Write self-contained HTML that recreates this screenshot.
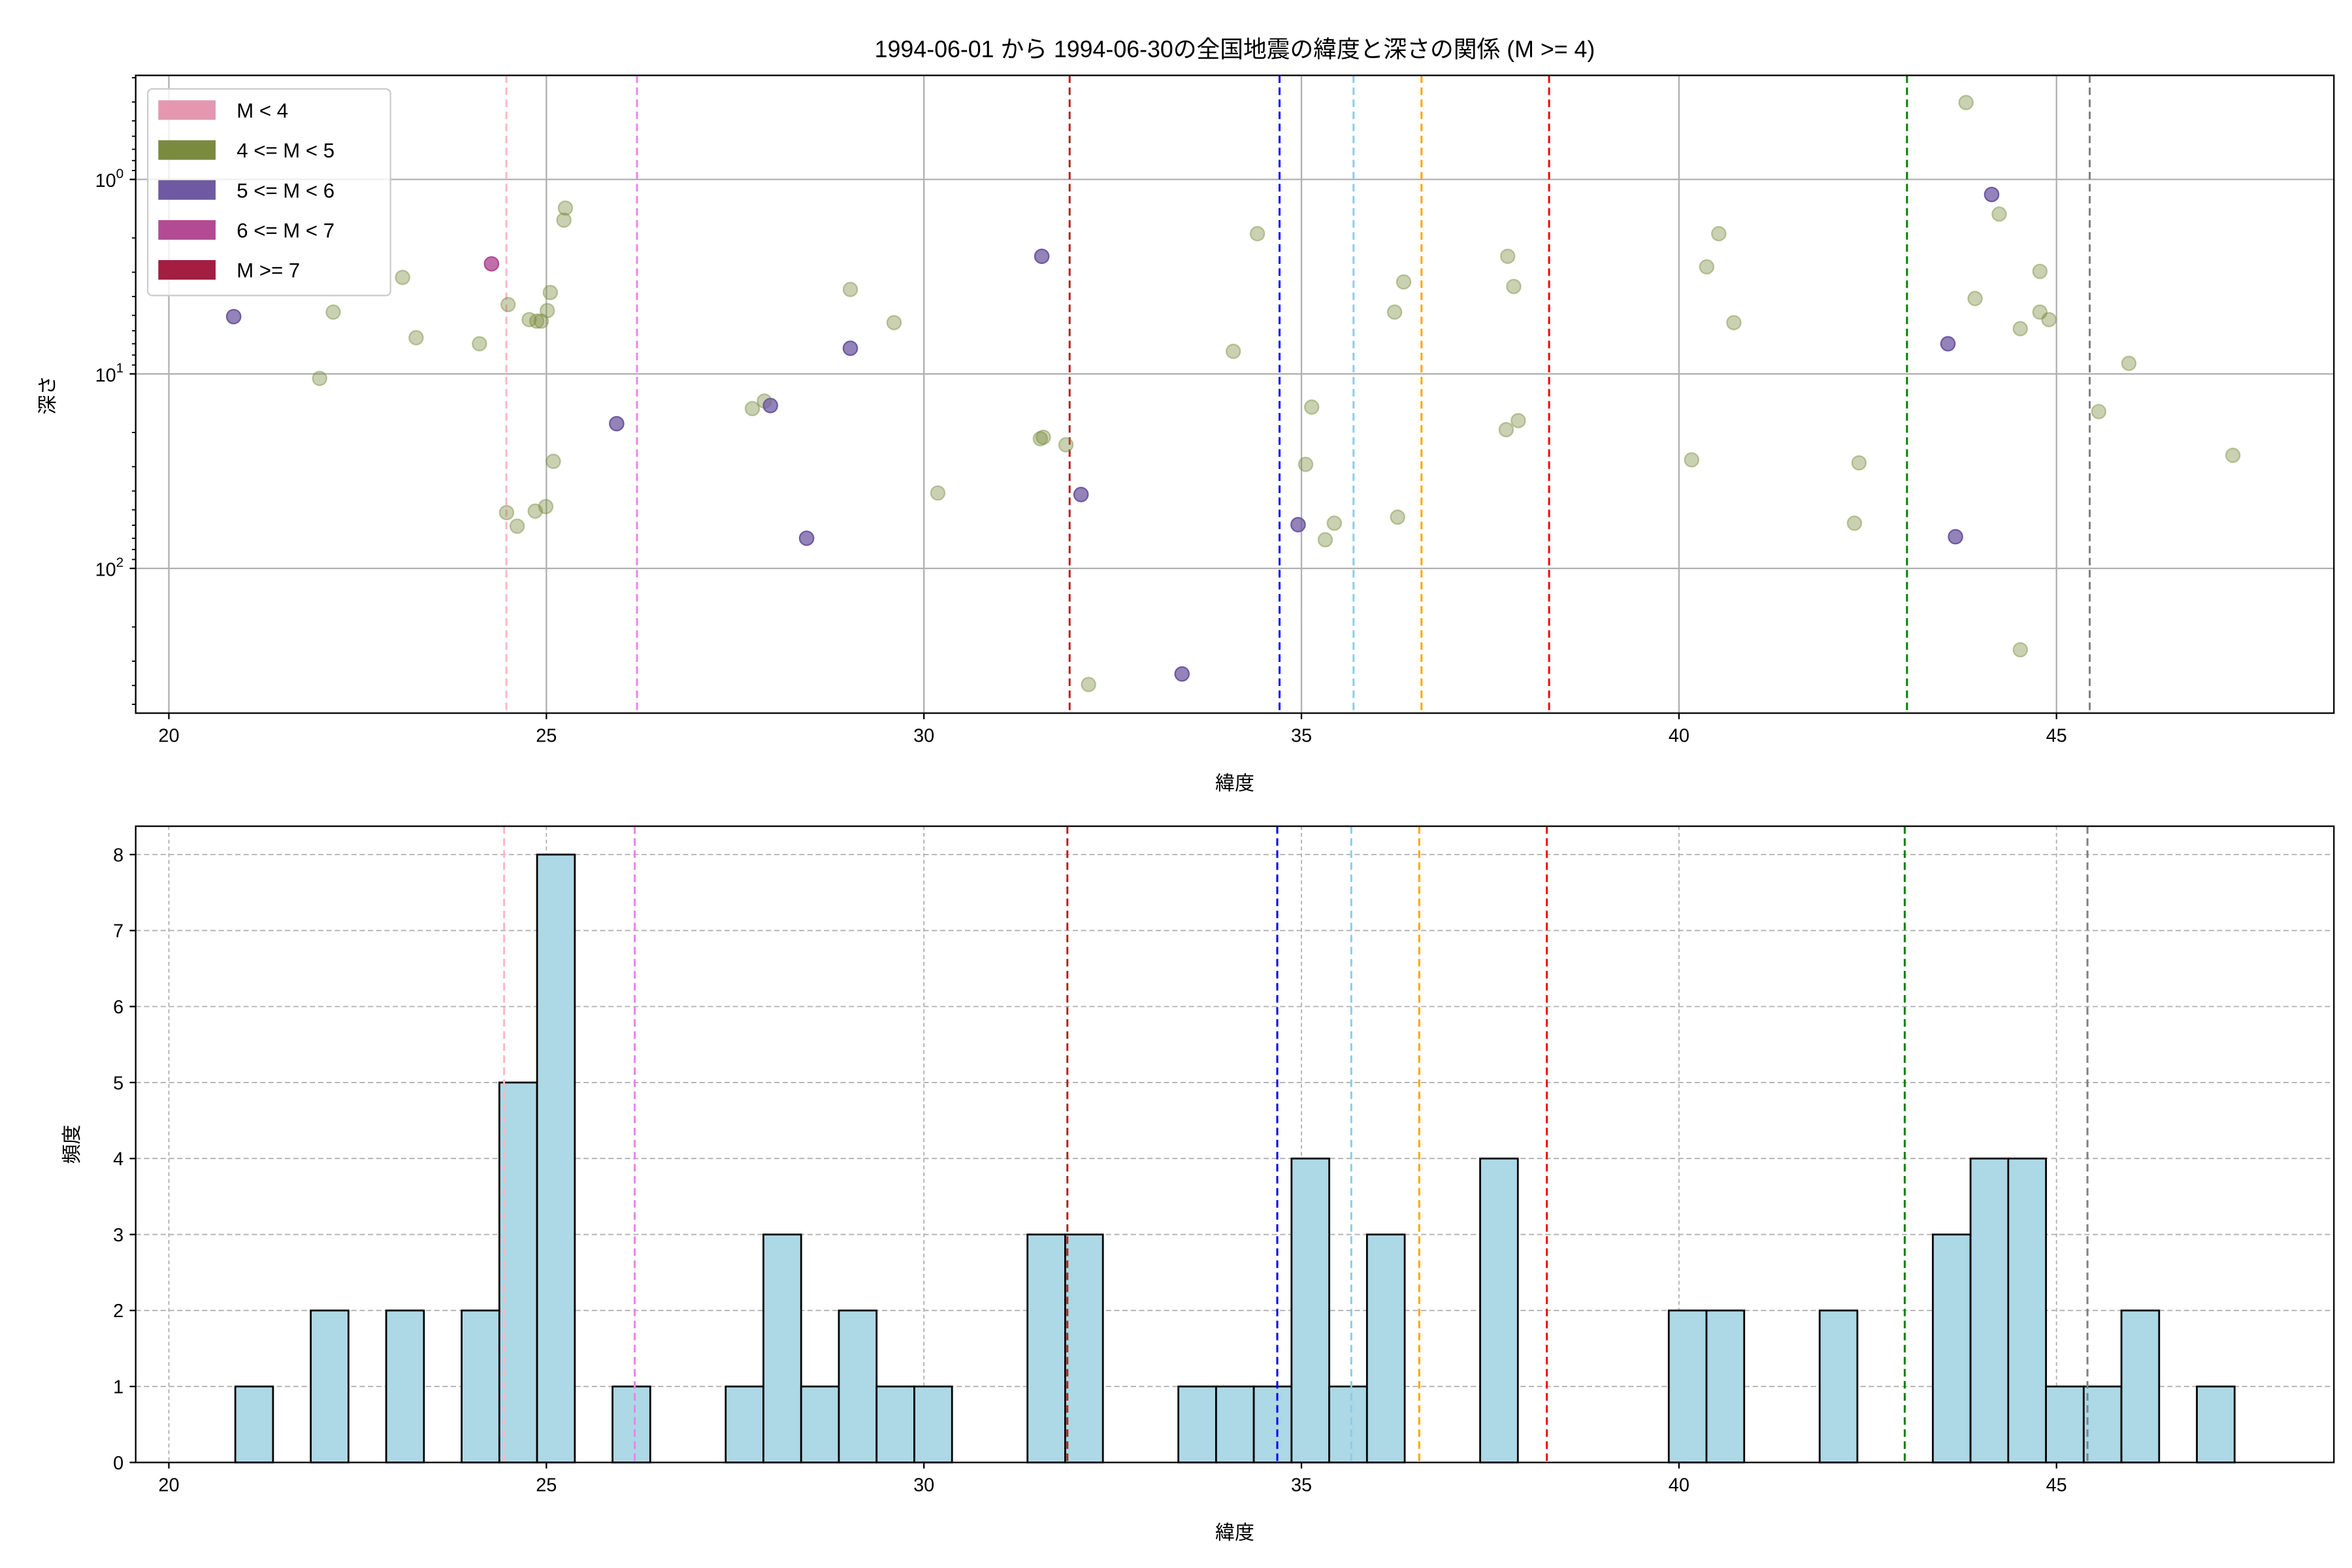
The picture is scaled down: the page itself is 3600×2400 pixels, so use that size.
<!DOCTYPE html>
<html><head><meta charset="utf-8"><style>
html,body{margin:0;padding:0;background:#fff;}
svg{display:block;font-family:"Liberation Sans","Noto Sans CJK JP",sans-serif;}
</style></head><body>
<svg id="s" width="3600" height="2400" viewBox="0 0 1560 1040" xmlns="http://www.w3.org/2000/svg"></svg>
<script>
const X=v=>112+(v-20)*50.08;
let h='<rect width="1560" height="1040" fill="#fff"/>';
h+='<text x="819" y="38" font-size="15.5" text-anchor="middle">1994-06-01 から 1994-06-30の全国地震の緯度と深さの関係 (M &gt;= 4)</text>';
// ---------- top axes ----------
const T=50,B=473,L=90,R=1548;
for(let v=20;v<=45;v+=5){h+=`<line x1="${X(v)}" y1="${T}" x2="${X(v)}" y2="${B}" stroke="#b0b0b0" stroke-width="1"/>`;}
const Y=d=>119+129*Math.log10(d);
[1,10,100].forEach(d=>{h+=`<line x1="${L}" y1="${Y(d)}" x2="${R}" y2="${Y(d)}" stroke="#b0b0b0" stroke-width="1"/>`;});
const vl=[[24.47,'#ffb6c1'],[26.2,'#ee82ee'],[31.93,'#b22222'],[34.71,'#0000ff'],[35.69,'#87ceeb'],[36.59,'#ffa500'],[38.28,'#ff0000'],[43.02,'#008000'],[45.44,'#808080']];
vl.forEach(([v,c])=>{h+=`<line x1="${X(v)}" y1="${T}" x2="${X(v)}" y2="${B}" stroke="${c}" stroke-width="1.3" stroke-dasharray="5,3"/>`;});
const ol=[[212,251],[221,207],[267,184],[276,224],[318,228],[337,202],[336,340],[343,349],[351,212],[356,213],[359,213],[363,206],[365,194],[355,339],[362,336],[367,306],[374,146],[375,138],[499,271],[507,266],[564,192],[593,214],[622,327],[690,291],[692,290],[707,295],[722,454],[818,233],[834,155],[866,308],[870,270],[879,358],[885,347],[925,207],[927,343],[931,187],[999,285],[1000,170],[1004,190],[1007,279],[1122,305],[1132,177],[1140,155],[1150,214],[1230,347],[1233,307],[1304,68],[1310,198],[1326,142],[1340,218],[1340,431],[1353,180],[1353,207],[1359,212],[1392,273],[1412,241],[1481,302]];
ol.forEach(([x,y])=>{h+=`<circle cx="${x}" cy="${y}" r="4.6" fill="#7a8b3f" fill-opacity="0.4" stroke="#7a8b3f" stroke-opacity="0.45" stroke-width="1"/>`;});
const pu=[[155,210],[409,281],[511,269],[535,357],[564,231],[691,170],[717,328],[784,447],[861,348],[1292,228],[1297,356],[1321,129]];
pu.forEach(([x,y])=>{h+=`<circle cx="${x}" cy="${y}" r="4.6" fill="#6f59a2" fill-opacity="0.75" stroke="#6f59a2" stroke-width="1"/>`;});
h+=`<circle cx="326" cy="175" r="4.6" fill="#b24b94" fill-opacity="0.8" stroke="#b24b94" stroke-width="1"/>`;
h+=`<rect x="${L}" y="${T}" width="${R-L}" height="${B-T}" fill="none" stroke="#000" stroke-width="1"/>`;
for(let v=20;v<=45;v+=5){h+=`<line x1="${X(v)}" y1="${B}" x2="${X(v)}" y2="${B+4}" stroke="#000"/><text x="${X(v)}" y="${B+19}" font-size="12.5" text-anchor="middle">${v}</text>`;}
[[1,'0'],[10,'1'],[100,'2']].forEach(([d,e])=>{const y=Y(d);h+=`<line x1="${L-4}" y1="${y}" x2="${L}" y2="${y}" stroke="#000"/><text x="${L-8}" y="${y+5}" font-size="12.5" text-anchor="end">10<tspan font-size="9" dy="-6">${e}</tspan></text>`;});
[0.1,1,10,100].forEach(b=>{for(let m=2;m<=9;m++){const y=Y(b*m);if(y>T&&y<B)h+=`<line x1="${L-2.5}" y1="${y}" x2="${L}" y2="${y}" stroke="#000" stroke-width="0.8"/>`;}});
h+=`<text x="819" y="524" font-size="13" text-anchor="middle">緯度</text>`;
h+=`<text transform="translate(36,262) rotate(-90)" font-size="13" text-anchor="middle">深さ</text>`;
// legend
h+=`<rect x="98" y="59" width="161" height="137" rx="3" fill="#fff" fill-opacity="0.8" stroke="#ccc" stroke-width="1"/>`;
[['M &lt; 4','#e597b0'],['4 &lt;= M &lt; 5','#7a8b3f'],['5 &lt;= M &lt; 6','#6f59a2'],['6 &lt;= M &lt; 7','#b24b94'],['M &gt;= 7','#a31e41']].forEach(([t,c],i)=>{const cy=73+i*26.5;h+=`<rect x="105" y="${cy-6.5}" width="38" height="13" fill="${c}"/><text x="157" y="${cy+5}" font-size="13.5">${t}</text>`;});
// ---------- bottom axes ----------
const T2=548,B2=970;const Y2=n=>970-n*50.4;
for(let v=20;v<=45;v+=5){h+=`<line x1="${X(v)}" y1="${T2}" x2="${X(v)}" y2="${B2}" stroke="#b0b0b0" stroke-width="0.8" stroke-dasharray="2.5,2"/>`;}
for(let n=1;n<=8;n++){h+=`<line x1="${L}" y1="${Y2(n)}" x2="${R}" y2="${Y2(n)}" stroke="#b0b0b0" stroke-width="0.8" stroke-dasharray="3.5,2"/>`;}
const bars=[[0,1],[2,2],[4,2],[6,2],[7,5],[8,8],[10,1],[13,1],[14,3],[15,1],[16,2],[17,1],[18,1],[21,3],[22,3],[25,1],[26,1],[27,1],[28,4],[29,1],[30,3],[33,4],[38,2],[39,2],[42,2],[45,3],[46,4],[47,4],[48,1],[49,1],[50,2],[52,1]];
const bw=0.4996*50.08;
bars.forEach(([k,n])=>{const x=X(20.88)+k*bw;h+=`<rect x="${x}" y="${Y2(n)}" width="${bw}" height="${n*50.4}" fill="#add8e6" stroke="#000" stroke-width="1.2"/>`;});
vl.forEach(([v,c])=>{h+=`<line x1="${X(v)-1.5}" y1="${T2}" x2="${X(v)-1.5}" y2="${B2}" stroke="${c}" stroke-width="1.3" stroke-dasharray="5,3"/>`;});
h+=`<rect x="${L}" y="${T2}" width="${R-L}" height="${B2-T2}" fill="none" stroke="#000" stroke-width="1"/>`;
for(let v=20;v<=45;v+=5){h+=`<line x1="${X(v)}" y1="${B2}" x2="${X(v)}" y2="${B2+4}" stroke="#000"/><text x="${X(v)}" y="${B2+19}" font-size="12.5" text-anchor="middle">${v}</text>`;}
for(let n=0;n<=8;n++){h+=`<line x1="${L-4}" y1="${Y2(n)}" x2="${L}" y2="${Y2(n)}" stroke="#000"/><text x="${L-8}" y="${Y2(n)+4.5}" font-size="12.5" text-anchor="end">${n}</text>`;}
h+=`<text x="819" y="1021" font-size="13" text-anchor="middle">緯度</text>`;
h+=`<text transform="translate(52,759) rotate(-90)" font-size="13" text-anchor="middle">頻度</text>`;
document.getElementById('s').innerHTML=h;
</script>
</body></html>
